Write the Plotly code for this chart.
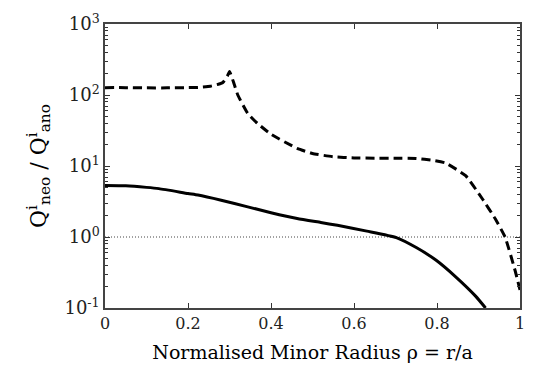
import plotly.graph_objects as go

# Dashed curve (upper)
rho_dash = [0, 0.05, 0.1, 0.15, 0.2, 0.224, 0.254, 0.27, 0.284, 0.295, 0.30, 0.31, 0.32, 0.344, 0.367,
            0.40, 0.463, 0.5, 0.55, 0.6, 0.654, 0.7, 0.75, 0.79, 0.821, 0.869, 0.91,
            0.94, 0.964, 0.988, 1.0]
q_dash = [127, 127, 126, 126, 127, 128, 133, 140, 150, 185, 215, 150, 100, 55, 40,
          28, 17.7, 15, 13.5, 13.0, 12.9, 12.9, 12.8, 12.0, 11.0, 7.3, 3.4,
          1.82, 1.0, 0.34, 0.18]

# Solid curve (lower)
rho_solid = [0, 0.05, 0.1, 0.13, 0.2, 0.224, 0.28, 0.344, 0.4, 0.463, 0.52, 0.56, 0.631,
             0.702, 0.75, 0.798, 0.845, 0.893, 0.917]
q_solid = [5.3, 5.25, 5.0, 4.8, 4.1, 3.9, 3.3, 2.66, 2.2, 1.82, 1.6, 1.46, 1.21,
           0.98, 0.71, 0.47, 0.275, 0.147, 0.1]

# Reference line
ref_x = [0, 1]
ref_y = [1, 1]

y_major = [0.1, 1, 10, 100, 1000]
y_major_text = ["10<sup>-1</sup>", "10<sup>0</sup>", "10<sup>1</sup>", "10<sup>2</sup>", "10<sup>3</sup>"]
x_ticks = [0, 0.2, 0.4, 0.6, 0.8, 1]
x_tick_text = ["0", "0.2", "0.4", "0.6", "0.8", "1"]

y_minor = [m * 10 ** e for e in range(-1, 3) for m in range(2, 10)]

FONT = "DejaVu Serif"

fig = go.Figure()
fig.add_trace(go.Scatter(x=ref_x, y=ref_y, mode="lines",
                         line=dict(color="#444", width=1, dash="1px,2px"), showlegend=False))
fig.add_trace(go.Scatter(x=rho_dash, y=q_dash, mode="lines",
                         line=dict(color="black", width=3, dash="9px,5px", shape="spline", smoothing=0.4),
                         showlegend=False))
fig.add_trace(go.Scatter(x=rho_solid, y=q_solid, mode="lines",
                         line=dict(color="black", width=3, shape="spline", smoothing=0.5),
                         showlegend=False))

fig.update_layout(
    width=536, height=371,
    margin=dict(l=105, r=11, t=17, b=62),
    plot_bgcolor="white", paper_bgcolor="white",
    font=dict(family=FONT, color="black", size=16),
    xaxis=dict(range=[0, 1], tickvals=x_ticks, ticktext=x_tick_text,
               ticks="inside", ticklen=5, tickwidth=1, tickcolor="#333",
               showline=True, linecolor="#444", linewidth=1.5, mirror="allticks",
               showgrid=False, zeroline=False,
               title=dict(text="Normalised Minor Radius ρ = r/a", font=dict(size=19, family=FONT), standoff=14),
               tickfont=dict(size=16, color="#222")),
    yaxis=dict(type="log", range=[-1, 3], tickvals=y_major, ticktext=y_major_text,
               ticks="inside", ticklen=5, tickwidth=1, tickcolor="#333",
               minor=dict(tickvals=y_minor, ticks="inside", ticklen=3, tickcolor="#333"),
               showline=True, linecolor="#444", linewidth=1.5, mirror="allticks",
               showgrid=False, zeroline=False,
               title=dict(text="Q<sup>i</sup><sub>neo</sub> / Q<sup>i</sup><sub>ano</sub>",
                          font=dict(size=22, family=FONT), standoff=12),
               tickfont=dict(size=18, color="#222")),
)

fig.write_html("out.html")
